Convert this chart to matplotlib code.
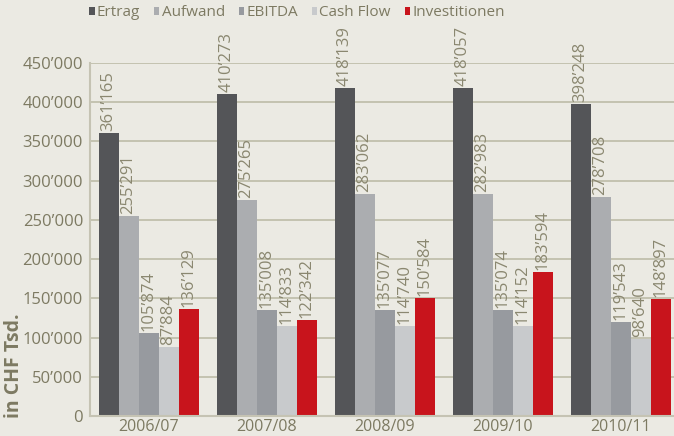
import matplotlib.pyplot as plt
import numpy as np

plt.rcParams['font.family'] = ['Open Sans', 'DejaVu Sans']

years = ['2006/07', '2007/08', '2008/09', '2009/10', '2010/11']
series = ['Ertrag', 'Aufwand', 'EBITDA', 'Cash Flow', 'Investitionen']
ertrag = [361165, 410273, 418139, 418057, 398248]
aufwand = [255291, 275265, 283062, 282983, 278708]
ebitda = [105874, 135008, 135077, 135074, 119543]
cash_flow = [87884, 114833, 114740, 114152, 98640]
investitionen = [136129, 122342, 150584, 183594, 148897]
colors = ['#545558', '#abadb0', '#979a9f', '#c8cacc', '#c8141c']

bg = '#ebeae3'
txt = '#7d7a62'

def fmt(v):
    return f"{v:,}".replace(",", "\u2019")

fig = plt.figure(figsize=(6.74, 4.36), dpi=100, facecolor=bg)
ax = fig.add_axes([90/674, 20/436, 584/674, 353/436], facecolor=bg)

x = np.arange(len(years))
w = 0.1695
handles = []
for i, (name, vals) in enumerate(zip(series, [ertrag, aufwand, ebitda, cash_flow, investitionen])):
    pos = x + (i - 2) * w
    b = ax.bar(pos, vals, width=w, color=colors[i], label=name, zorder=2)
    handles.append(b)
    for px, v in zip(pos, vals):
        ax.annotate(fmt(v), (px, v), xytext=(0, 1.5), textcoords='offset points',
                    rotation=90, ha='center', va='bottom', fontsize=12,
                    color='#8a8770', annotation_clip=False)

ax.set_ylim(0, 450000)
ax.set_xlim(-0.496, 4.453)
ax.set_yticks(np.arange(0, 450001, 50000))
ax.set_yticklabels([fmt(v) for v in range(0, 450001, 50000)])
ax.set_xticks(x)
ax.set_xticklabels(years)
ax.tick_params(axis='both', length=0, labelsize=12, labelcolor=txt)
ax.tick_params(axis='y', pad=5)
ax.tick_params(axis='x', pad=2, labelsize=11.5)
ax.grid(axis='y', color='#bdbca8', linewidth=1.2, zorder=0)
ax.set_axisbelow(True)
for s in ['top', 'right']:
    ax.spines[s].set_visible(False)
for s in ['left', 'bottom']:
    ax.spines[s].set_color('#c5c3b3')
    ax.spines[s].set_linewidth(1.5)

fig.text(14/674, 18/436, 'in CHF Tsd.', rotation=90, ha='center', va='bottom',
         fontsize=14, fontweight='bold', color=txt)

fig.legend(handles=handles, labels=series, loc='center', bbox_to_anchor=(297/674, 1 - 13/436),
           ncol=5, frameon=False, fontsize=11, labelcolor=txt,
           handlelength=0.35, handleheight=0.35, handletextpad=0.15, columnspacing=0.9,
           borderaxespad=0)

fig.savefig('out.png', dpi=100, facecolor=bg)
